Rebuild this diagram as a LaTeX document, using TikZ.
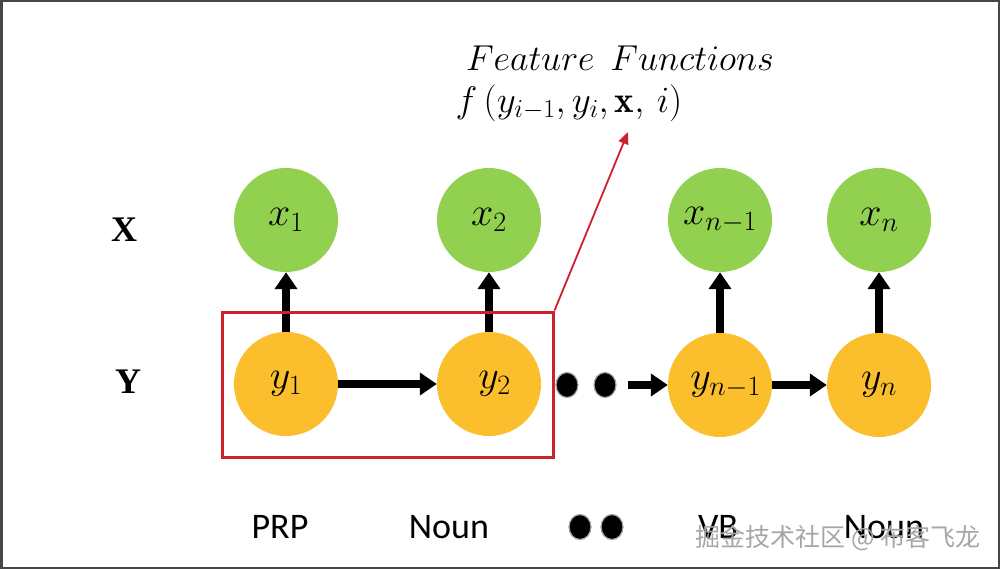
\RequirePackage{fix-cm}
\documentclass[tikz,border=0pt]{standalone}
\usepackage{amsmath}
\usepackage{fontspec}
\setsansfont{Carlito}
\newfontfamily\timesfont{Liberation Serif}
\newfontfamily\cjk{Noto Sans CJK SC}
\usetikzlibrary{arrows.meta,shapes.geometric}
\definecolor{xgreen}{RGB}{146,208,80}
\definecolor{yorange}{RGB}{251,190,45}
\definecolor{boxred}{RGB}{204,32,44}
\definecolor{framegray}{RGB}{70,70,70}
\tikzset{
  xnode/.style={circle,fill=xgreen,minimum size=104pt,inner sep=0pt,font=\fontsize{40}{44}\selectfont},
  ynode/.style={circle,fill=yorange,minimum size=104pt,inner sep=0pt,font=\fontsize{40}{44}\selectfont},
  arr/.style={line width=8pt,-{Triangle[length=17pt,width=22pt]}},
  dotnode/.style={ellipse,fill=black,draw=gray!70,line width=1.2pt,minimum width=22pt,minimum height=25pt,inner sep=0pt},
  tag/.style={font=\sffamily\fontsize{36}{40}\selectfont},
  axis/.style={font=\timesfont\bfseries\fontsize{36}{40}\selectfont},
  redbox/.style={draw=boxred,line width=3pt,inner sep=0pt},
  redarr/.style={draw=boxred,line width=1.8pt,-{Triangle[length=12pt,width=10pt]}},
  wm/.style={font=\cjk\fontsize{25}{28}\selectfont,text=black!35}
}
\begin{document}
\begin{tikzpicture}[x=1pt,y=-1pt]
\useasboundingbox (0,0) rectangle (1000,569);
\draw[framegray,line width=2.5pt] (1.25,1.25) rectangle (998.75,567.75);
% axis labels
\node[axis] (lx) at (124,230) {X};
\node[axis] (ly) at (128,382) {Y};
% nodes
\node[xnode] (x1) at (286,220) {$x_1$};
\node[xnode] (x2) at (489,220) {$x_2$};
\node[xnode] (xn1) at (720,220) {$x_{n-1}$};
\node[xnode] (xn) at (879,220) {$x_n$};
\node[ynode] (y1) at (286,384) {$y_1$};
\node[ynode] (y2) at (489,384) {$\;y_2$};
\node[ynode] (yn1) at (720,385) {$\;y_{n-1}$};
\node[ynode] (yn) at (879,385) {$y_n$};
\node[dotnode] (d1) at (567,385) {};
\node[dotnode] (d2) at (605,385) {};
\node[dotnode] (b1) at (580,527) {};
\node[dotnode] (b2) at (612,527) {};
% arrows
\draw[arr] (y1.north) -- (x1.south);
\draw[arr] (y2.north) -- (x2.south);
\draw[arr] (yn1.north) -- (xn1.south);
\draw[arr] (yn.north) -- (xn.south);
\draw[arr] (y1.east) -- (y2.west);
\draw[arr] ([xshift=11pt]d2.east) -- (yn1.west);
\draw[arr] (yn1.east) -- (yn.west);
% red box and pointer
\node[redbox,minimum width=331pt,minimum height=145pt] (box) at (387.5,384.5) {};
\coordinate (ftip) at (628,132);
\draw[redarr] (box.north east) -- (ftip);
% feature function text
\node[font=\fontsize{36}{40}\selectfont] (ft) at (620,58) {$Feature\;\,Functions$};
\node[font=\fontsize{37}{40}\selectfont] (ff) at (569,103) {$f\,(y_{i-1},y_i,\mathbf{x},\,i)$};
% tags
\node[tag] (t1) at (280,527) {PRP};
\node[tag] (t2) at (449,527) {Noun};
\node[tag] (t3) at (718,527) {VB};
\node[tag] (t4) at (884,527) {Noun};
% watermark
\node[wm] (wm) at (838,538) {掘金技术社区 @ 布客飞龙};
\end{tikzpicture}
\end{document}
